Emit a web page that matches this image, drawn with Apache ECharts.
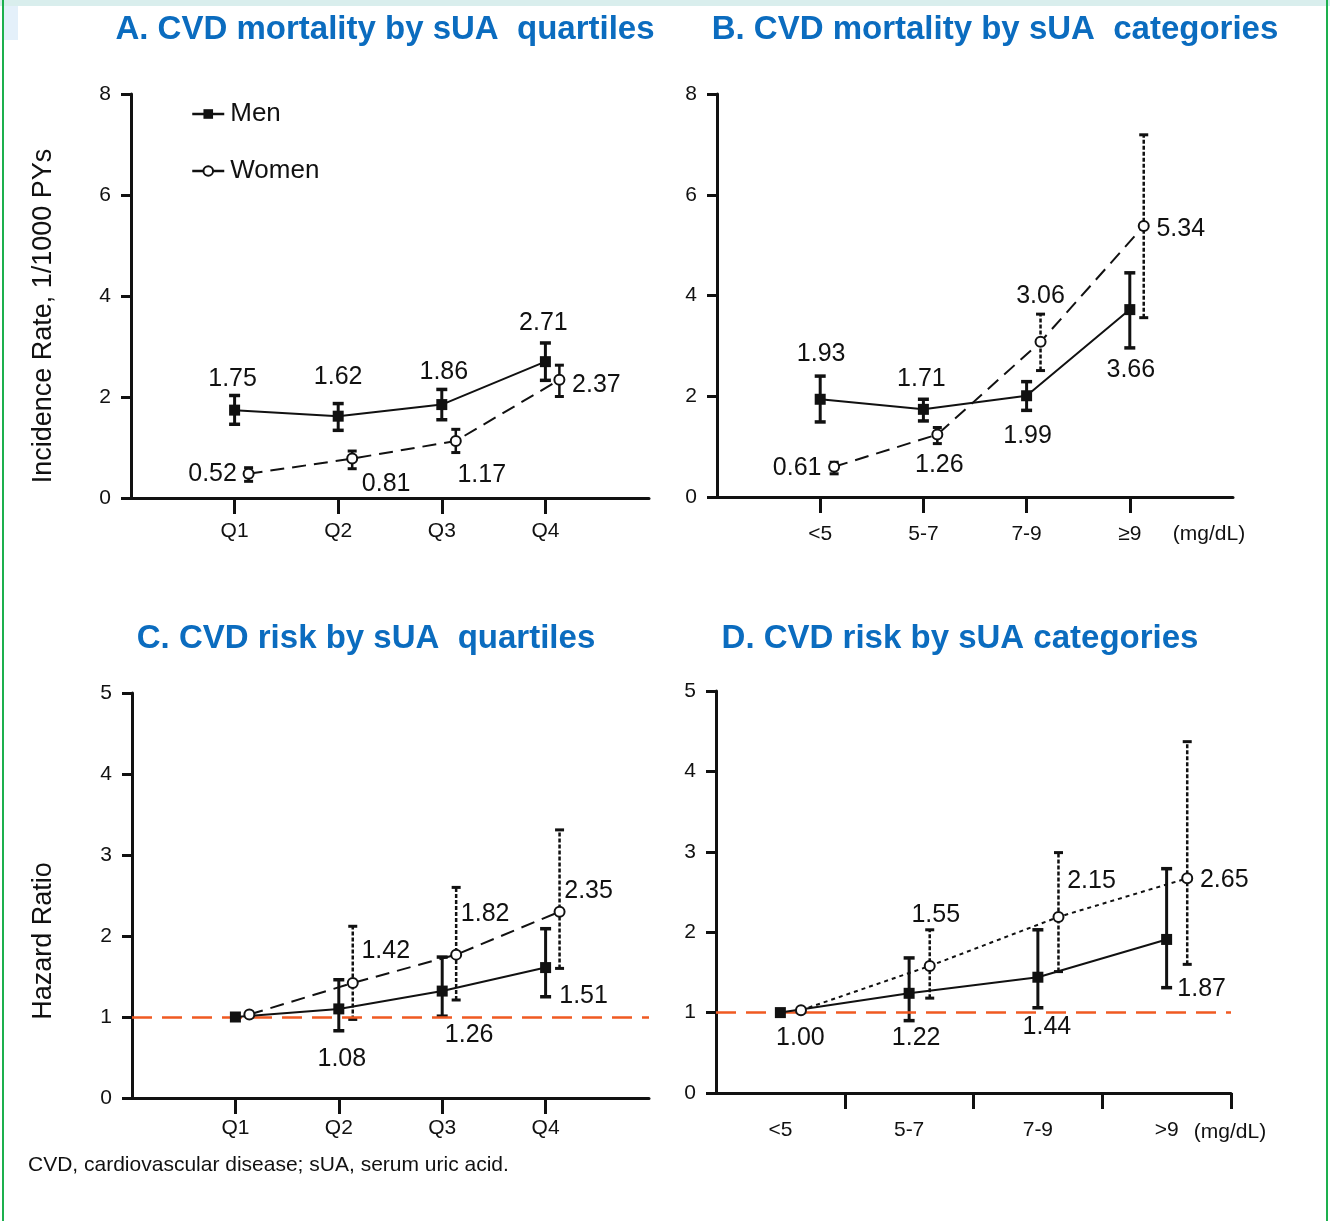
<!DOCTYPE html>
<html><head><meta charset="utf-8">
<script src="https://cdn.jsdelivr.net/npm/echarts@6/dist/echarts.min.js"></script>
<style>html,body{margin:0;padding:0;background:#fff}#c{width:1330px;height:1221px}</style>
</head><body><div id="c"></div><script>
// ---------- categories ----------
const quartiles = ['Q1', 'Q2', 'Q3', 'Q4'];
const catsB = ['<5', '5-7', '7-9', '≥9'];
const catsD = ['<5', '5-7', '7-9', '>9'];
const yTicksIR = [0, 2, 4, 6, 8];
const yTicksHR = [0, 1, 2, 3, 4, 5];
const refHR = 1;

// ---------- Panel A: CVD mortality by sUA quartiles (per 1000 PYs) ----------
const aMen = [1.74, 1.62, 1.85, 2.70];
const aMenLow = [1.46, 1.34, 1.55, 2.33];
const aMenHigh = [2.03, 1.87, 2.15, 3.07];
const aMenLabels = ['1.75', '1.62', '1.86', '2.71'];
const aWomen = [0.48, 0.78, 1.13, 2.34];
const aWomenLow = [0.33, 0.58, 0.90, 2.01];
const aWomenHigh = [0.60, 0.93, 1.36, 2.63];
const aWomenLabels = ['0.52', '0.81', '1.17', '2.37'];

// ---------- Panel B: CVD mortality by sUA categories ----------
const bMen = [1.94, 1.74, 2.01, 3.72];
const bMenLow = [1.49, 1.51, 1.72, 2.96];
const bMenHigh = [2.40, 1.94, 2.29, 4.45];
const bMenLabels = ['1.93', '1.71', '1.99', '3.66'];
const bWomen = [0.60, 1.24, 3.08, 5.38];
const bWomenLow = [0.46, 1.06, 2.51, 3.56];
const bWomenHigh = [0.69, 1.38, 3.63, 7.19];
const bWomenLabels = ['0.61', '1.26', '3.06', '5.34'];

// ---------- Panel C: CVD risk (HR) by sUA quartiles ----------
const cMen = [1.00, 1.10, 1.32, 1.61];
const cMenLow = [null, 0.83, 1.01, 1.25];
const cMenHigh = [null, 1.46, 1.74, 2.09];
const cMenLabels = [null, '1.08', '1.26', '1.51'];
const cWomen = [1.03, 1.42, 1.77, 2.30];
const cWomenLow = [null, 0.97, 1.21, 1.60];
const cWomenHigh = [null, 2.12, 2.60, 3.31];
const cWomenLabels = [null, '1.42', '1.82', '2.35'];

// ---------- Panel D: CVD risk (HR) by sUA categories ----------
const dMen = [1.00, 1.24, 1.44, 1.91];
const dMenLow = [null, 0.90, 1.06, 1.31];
const dMenHigh = [null, 1.68, 2.03, 2.79];
const dMenLabels = ['1.00', '1.22', '1.44', '1.87'];
const dWomen = [1.03, 1.58, 2.19, 2.67];
const dWomenLow = [null, 1.18, 1.51, 1.60];
const dWomenHigh = [null, 2.03, 2.99, 4.37];
const dWomenLabels = [null, '1.55', '2.15', '2.65'];

// ---------- styling / layout (not data) ----------
const FONT = '"Liberation Sans", Arial, Helvetica, sans-serif';
const INK = '#111111';
const BLUE = '#0b6cbf';
const RED = '#f05a22';
const LABEL_OFF = {
  aMen: [[-2, -31], [0, -39], [2, -32], [-2, -39]],
  aWomen: [[-36, 0], [34, 25], [26, 34], [37, 5]],
  bMen: [[1, -45], [-2, -30], [1, 40], [1, 61]],
  bWomen: [[-37, 1], [2, 31], [0, -46], [37, 3]],
  cMen: [[0, 0], [3, 50], [27, 44], [38, 29]],
  cWomen: [[0, 0], [33, -32], [29, -41], [29, -21]],
  dMen: [[20, 26], [7, 45], [9, 50], [35, 50]],
  dWomen: [[0, 0], [6, -51], [33, -36], [37, 2]]
};
const DODGE_Q = 0.135, DODGE_D = 0.16;

const grids = [
  { left: 131, top: 94, width: 518, height: 404 },
  { left: 717, top: 94, width: 516, height: 403 },
  { left: 132, top: 693, width: 517, height: 405 },
  { left: 716, top: 691, width: 515, height: 402 }
];

function xAxisCfg(gi, cats, min, max, tickVals, labelMargin) {
  return {
    gridIndex: gi, type: 'value', min: min, max: max,
    axisLine: { show: true, onZero: false, lineStyle: { color: INK, width: 3 } },
    axisTick: { show: true, length: 16, lineStyle: { color: INK, width: 3 }, customValues: tickVals },
    axisLabel: {
      show: true, customValues: [0, 1, 2, 3], margin: labelMargin,
      formatter: function (v) { return cats[Math.round(v)]; },
      fontSize: 21, color: INK, fontFamily: FONT
    },
    splitLine: { show: false }
  };
}
function yAxisCfg(gi, max, interval) {
  return {
    gridIndex: gi, type: 'value', min: 0, max: max, interval: interval,
    axisLine: { show: true, onZero: false, lineStyle: { color: INK, width: 3 } },
    axisTick: { show: true, length: 10, lineStyle: { color: INK, width: 3 } },
    axisLabel: { fontSize: 21, color: INK, fontFamily: FONT, margin: 20, padding: [4, 0, 0, 0] },
    splitLine: { show: false }
  };
}

function pts(vals, dodge, labels, offs) {
  return vals.map(function (v, i) {
    const item = { value: [i + dodge, v] };
    if (labels[i]) {
      item.label = { show: true, formatter: labels[i], offset: offs[i] };
    } else {
      item.label = { show: false };
    }
    return item;
  });
}

function lineSeries(name, gi, vals, dodge, labels, offs, isWomen, lineType) {
  return {
    name: name, type: 'line', xAxisIndex: gi, yAxisIndex: gi, z: 6,
    data: pts(vals, dodge, labels, offs),
    symbol: isWomen ? 'circle' : 'rect',
    symbolSize: isWomen ? 10 : 11,
    itemStyle: isWomen ? { color: '#ffffff', borderColor: INK, borderWidth: 2 } : { color: INK },
    lineStyle: { color: INK, width: 2, type: lineType },
    label: { position: 'inside', fontSize: 25, color: INK, fontFamily: FONT, align: 'center', verticalAlign: 'middle' },
    emphasis: { disabled: true },
    animation: false
  };
}

function errSeries(gi, vals, lows, highs, dodge, dash, capW, lw, withRef) {
  const data = [];
  lows.forEach(function (lo, i) {
    if (lo !== null && highs[i] !== null) data.push([i + dodge, lo, highs[i]]);
  });
  const s = {
    type: 'custom', xAxisIndex: gi, yAxisIndex: gi, z: 3, clip: false,
    data: data, encode: { x: 0, y: [1, 2] },
    renderItem: function (params, api) {
      const x = api.value(0);
      const pLo = api.coord([x, api.value(1)]);
      const pHi = api.coord([x, api.value(2)]);
      const st = { stroke: INK, lineWidth: lw, lineDash: dash, fill: null };
      const cap = { stroke: INK, lineWidth: lw + 0.5, fill: null };
      return {
        type: 'group', children: [
          { type: 'line', shape: { x1: pLo[0], y1: pLo[1], x2: pHi[0], y2: pHi[1] }, style: st },
          { type: 'line', shape: { x1: pLo[0] - capW / 2, y1: pLo[1], x2: pLo[0] + capW / 2, y2: pLo[1] }, style: cap },
          { type: 'line', shape: { x1: pHi[0] - capW / 2, y1: pHi[1], x2: pHi[0] + capW / 2, y2: pHi[1] }, style: cap }
        ]
      };
    },
    animation: false, silent: true
  };
  if (withRef) {
    s.markLine = {
      silent: true, symbol: ['none', 'none'], label: { show: false },
      lineStyle: { color: RED, type: [20, 10], width: 2.5 },
      data: [{ yAxis: refHR }], animation: false
    };
  }
  return s;
}

const series = [
  // A
  errSeries(0, aMen, aMenLow, aMenHigh, 0, null, 11, 3, false),
  errSeries(0, aWomen, aWomenLow, aWomenHigh, DODGE_Q, null, 9, 2.5, false),
  lineSeries('Men', 0, aMen, 0, aMenLabels, LABEL_OFF.aMen, false, 'solid'),
  lineSeries('Women', 0, aWomen, DODGE_Q, aWomenLabels, LABEL_OFF.aWomen, true, [14, 8]),
  // B
  errSeries(1, bMen, bMenLow, bMenHigh, 0, null, 11, 3, false),
  errSeries(1, bWomen, bWomenLow, bWomenHigh, DODGE_Q, [4, 2], 9, 2.5, false),
  lineSeries('Men', 1, bMen, 0, bMenLabels, LABEL_OFF.bMen, false, 'solid'),
  lineSeries('Women', 1, bWomen, DODGE_Q, bWomenLabels, LABEL_OFF.bWomen, true, [14, 8]),
  // C
  errSeries(2, cMen, cMenLow, cMenHigh, 0, null, 11, 3, true),
  errSeries(2, cWomen, cWomenLow, cWomenHigh, DODGE_Q, [4, 2], 9, 2.5, false),
  lineSeries('Men', 2, cMen, 0, cMenLabels, LABEL_OFF.cMen, false, 'solid'),
  lineSeries('Women', 2, cWomen, DODGE_Q, cWomenLabels, LABEL_OFF.cWomen, true, [14, 8]),
  // D
  errSeries(3, dMen, dMenLow, dMenHigh, 0, null, 11, 3, true),
  errSeries(3, dWomen, dWomenLow, dWomenHigh, DODGE_D, [4, 2], 9, 2.5, false),
  lineSeries('Men', 3, dMen, 0, dMenLabels, LABEL_OFF.dMen, false, 'solid'),
  lineSeries('Women', 3, dWomen, DODGE_D, dWomenLabels, LABEL_OFF.dWomen, true, [4, 4])
];

function txt(text, x, y, size, opts) {
  opts = opts || {};
  return {
    type: 'text', x: x, y: y, rotation: opts.rot || 0, silent: true, z: 10,
    style: {
      text: text, fill: opts.color || INK,
      font: (opts.bold ? 'bold ' : '') + size + 'px ' + FONT,
      textAlign: opts.align || 'center', textVerticalAlign: 'middle',
      align: opts.align || 'center', verticalAlign: 'middle'
    }
  };
}

const graphics = [
  // decorative frame
  { type: 'rect', shape: { x: 0, y: 0, width: 1330, height: 6 }, style: { fill: '#d9eeed' }, silent: true, z: 0 },
  { type: 'rect', shape: { x: 3, y: 6, width: 15, height: 34 }, style: { fill: '#e4f0fa' }, silent: true, z: 0 },
  { type: 'rect', shape: { x: 2, y: 0, width: 2, height: 1221 }, style: { fill: '#1db04e' }, silent: true, z: 1 },
  { type: 'rect', shape: { x: 1326, y: 0, width: 2, height: 1221 }, style: { fill: '#1db04e' }, silent: true, z: 1 },
  // panel titles
  txt('A. CVD mortality by sUA  quartiles', 385, 30, 33, { bold: true, color: BLUE }),
  txt('B. CVD mortality by sUA  categories', 995, 30, 33, { bold: true, color: BLUE }),
  txt('C. CVD risk by sUA  quartiles', 366, 639, 33, { bold: true, color: BLUE }),
  txt('D. CVD risk by sUA categories', 960, 639, 33, { bold: true, color: BLUE }),
  // y-axis titles
  txt('Incidence Rate, 1/1000 PYs', 44, 316, 27, { rot: Math.PI / 2 }),
  txt('Hazard Ratio', 44, 941, 27, { rot: Math.PI / 2 }),
  // units
  txt('(mg/dL)', 1209, 534, 21),
  txt('(mg/dL)', 1230, 1132, 21),
  // footnote
  txt('CVD, cardiovascular disease; sUA, serum uric acid.', 28, 1165, 21, { align: 'left' })
];

const chart = echarts.init(document.getElementById('c'), null, { renderer: 'canvas' });
chart.setOption({
  backgroundColor: '#ffffff',
  animation: false,
  textStyle: { fontFamily: FONT },
  grid: grids.map(function (g) { return Object.assign({ outerBoundsMode: 'none', containLabel: false }, g); }),
  xAxis: [
    xAxisCfg(0, quartiles, -1, 4, [0, 1, 2, 3], 23),
    xAxisCfg(1, catsB, -1, 4, [0, 1, 2, 3], 27),
    xAxisCfg(2, quartiles, -1, 4, [0, 1, 2, 3], 20),
    xAxisCfg(3, catsD, -0.5, 3.5, [0.5, 1.5, 2.5, 3.5], 27)
  ],
  yAxis: [
    yAxisCfg(0, 8, 2),
    yAxisCfg(1, 8, 2),
    yAxisCfg(2, 5, 1),
    yAxisCfg(3, 5, 1)
  ],
  legend: {
    data: ['Men', 'Women'], orient: 'vertical', left: 191, top: 101, padding: 0,
    itemWidth: 32, itemHeight: 12, itemGap: 31, selectedMode: false,
    textStyle: { fontSize: 26, color: INK, fontFamily: FONT, lineHeight: 26, padding: [0, 0, 0, 1] },
    lineStyle: { type: 'solid', width: 2.5, color: INK }
  },
  series: series,
  graphic: graphics
});
</script></body></html>
